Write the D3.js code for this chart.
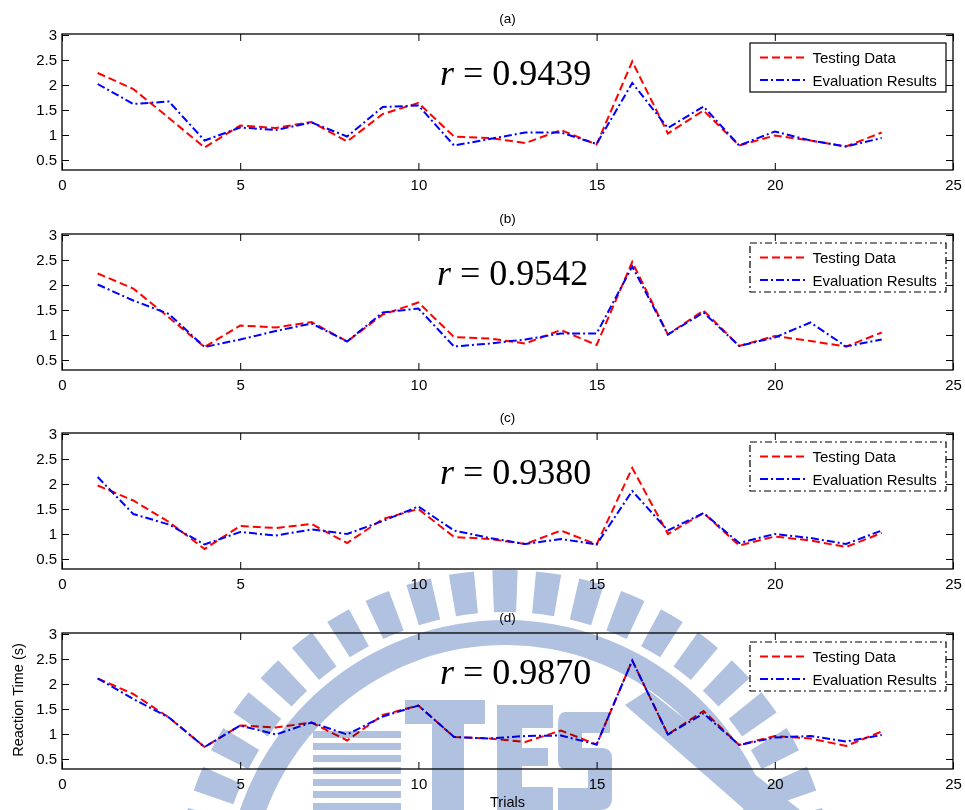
<!DOCTYPE html>
<html>
<head>
<meta charset="utf-8">
<script src="https://cdn.jsdelivr.net/npm/d3@7"></script>
<style>
  html, body { margin: 0; padding: 0; background: #fff; }
  svg { display: block; }
  text { font-family: "Liberation Sans", Arial, sans-serif; fill: #000; }
  .rlabel { font-family: "Liberation Serif", "Times New Roman", serif; }
</style>
</head>
<body>
<svg id="chart" width="965" height="810"></svg>
<script>
// Trial numbers along the x axis
const trials = [1, 2, 3, 4, 5, 6, 7, 8, 9, 10, 11, 12, 13, 14, 15, 16, 17, 18, 19, 20, 21, 22, 23];

// Measured reaction times (s) used in each panel
const testingA = [2.24, 1.92, 1.34, 0.75, 1.19, 1.14, 1.26, 0.87, 1.42, 1.64, 0.97, 0.94, 0.84, 1.10, 0.81, 2.47, 1.03, 1.49, 0.79, 0.99, 0.89, 0.77, 1.05];
const testingB = [2.23, 1.93, 1.35, 0.76, 1.19, 1.15, 1.26, 0.87, 1.41, 1.65, 0.96, 0.93, 0.83, 1.10, 0.80, 2.46, 1.01, 1.49, 0.78, 0.98, 0.88, 0.77, 1.05];
const testingC = [1.97, 1.67, 1.24, 0.70, 1.16, 1.12, 1.20, 0.82, 1.30, 1.50, 0.94, 0.90, 0.80, 1.07, 0.79, 2.32, 1.00, 1.42, 0.77, 0.95, 0.87, 0.74, 1.02];
const testingD = [2.11, 1.80, 1.33, 0.74, 1.17, 1.13, 1.23, 0.87, 1.38, 1.57, 0.94, 0.91, 0.84, 1.07, 0.79, 2.47, 0.99, 1.46, 0.78, 0.96, 0.91, 0.76, 1.05];

// Model outputs (s) for each panel
const evalA = [2.02, 1.62, 1.67, 0.89, 1.15, 1.10, 1.25, 0.97, 1.56, 1.59, 0.79, 0.92, 1.05, 1.05, 0.82, 2.04, 1.14, 1.57, 0.79, 1.07, 0.89, 0.77, 0.94];
const evalB = [2.01, 1.69, 1.42, 0.76, 0.91, 1.08, 1.23, 0.87, 1.45, 1.53, 0.77, 0.83, 0.91, 1.03, 1.03, 2.37, 1.01, 1.45, 0.78, 0.95, 1.25, 0.77, 0.91];
const evalC = [2.14, 1.40, 1.19, 0.79, 1.04, 0.97, 1.09, 1.00, 1.26, 1.55, 1.07, 0.92, 0.80, 0.90, 0.79, 1.86, 1.07, 1.42, 0.82, 1.00, 0.92, 0.80, 1.07];
const evalD = [2.11, 1.70, 1.33, 0.74, 1.17, 0.99, 1.23, 0.99, 1.35, 1.57, 0.94, 0.91, 0.96, 0.97, 0.79, 2.47, 0.99, 1.41, 0.78, 0.93, 0.96, 0.85, 0.98];

// Panel titles and correlation coefficients
const panelTitles = ["(a)", "(b)", "(c)", "(d)"];
const correlations = ["0.9439", "0.9542", "0.9380", "0.9870"];

// Axis ticks
const xTicks = [0, 5, 10, 15, 20, 25];
const yTicks = [0.5, 1, 1.5, 2, 2.5, 3];
const xDomain = [0, 25];
const yDomain = [0.3, 3.02];

const seriesNames = ["Testing Data", "Evaluation Results"];
const testingSets = [testingA, testingB, testingC, testingD];
const evalSets = [evalA, evalB, evalC, evalD];

// ---- layout ----
const svg = d3.select("#chart");
const left = 62, right = 953;
const panelTops = [34, 234, 433, 633];
const panelH = 136;
const red = "#ff0000", blue = "#0000ff";
const redDash = "8,4";
const blueDash = "8,3,2,3";

svg.append("rect").attr("width", 965).attr("height", 810).attr("fill", "#fff");

const x = d3.scaleLinear().domain(xDomain).range([left, right]);

panelTitles.forEach((title, i) => {
  const top = panelTops[i];
  const bottom = top + panelH;
  const y = d3.scaleLinear().domain(yDomain).range([bottom, top]);
  const g = svg.append("g");

  // axes: ticks pointing inward on all four sides
  const axB = g.append("g").attr("transform", `translate(0,${bottom})`)
    .call(d3.axisBottom(x).tickValues(xTicks).tickSizeInner(-7).tickSizeOuter(0).tickPadding(9).tickFormat(d3.format("d")));
  const axT = g.append("g").attr("transform", `translate(0,${top})`)
    .call(d3.axisTop(x).tickValues(xTicks).tickSizeInner(-7).tickSizeOuter(0).tickFormat(""));
  const axL = g.append("g").attr("transform", `translate(${left},0)`)
    .call(d3.axisLeft(y).tickValues(yTicks).tickSizeInner(-7).tickSizeOuter(0).tickPadding(5).tickFormat(d => d3.format("")(d)));
  const axR = g.append("g").attr("transform", `translate(${right},0)`)
    .call(d3.axisRight(y).tickValues(yTicks).tickSizeInner(-7).tickSizeOuter(0).tickFormat(""));
  [axB, axT, axL, axR].forEach(a => {
    a.select(".domain").remove();
    a.selectAll(".tick line").attr("stroke", "#000").attr("stroke-width", 1);
    a.selectAll("text").attr("font-size", 15).attr("fill", "#000")
      .attr("font-family", "Liberation Sans, Arial, sans-serif");
  });

  // axes box
  g.append("rect").attr("x", left).attr("y", top).attr("width", right - left).attr("height", panelH)
    .attr("fill", "none").attr("stroke", "#000").attr("stroke-width", 1.3);

  // title
  g.append("text").attr("x", (left + right) / 2).attr("y", top - 11)
    .attr("text-anchor", "middle").attr("font-size", 13.5).text(title);

  // series
  const line = d3.line().x((d, k) => x(trials[k])).y(d => y(d));
  g.append("path").datum(testingSets[i]).attr("d", line)
    .attr("fill", "none").attr("stroke", red).attr("stroke-width", 2).attr("stroke-dasharray", redDash);
  g.append("path").datum(evalSets[i]).attr("d", line)
    .attr("fill", "none").attr("stroke", blue).attr("stroke-width", 2).attr("stroke-dasharray", blueDash);

  // correlation label
  const rt = g.append("text").attr("class", "rlabel").attr("x", i === 1 ? 437 : 440).attr("y", top + 51)
    .attr("font-size", 36);
  rt.append("tspan").attr("font-style", "italic").text("r");
  rt.append("tspan").text(" = " + correlations[i]);

  // legend
  const lx = 750, ly = top + 9, lw = 196, lh = 49;
  g.append("rect").attr("x", lx).attr("y", ly).attr("width", lw).attr("height", lh)
    .attr("fill", "#fff").attr("stroke", "#000").attr("stroke-width", 1.2)
    .attr("stroke-dasharray", i === 0 ? null : "7,3,2,3");
  const rows = [{ c: red, d: redDash, t: seriesNames[0], yy: top + 23.5 },
                { c: blue, d: blueDash, t: seriesNames[1], yy: top + 46 }];
  rows.forEach(r => {
    g.append("line").attr("x1", 760).attr("x2", 805).attr("y1", r.yy).attr("y2", r.yy)
      .attr("stroke", r.c).attr("stroke-width", 2).attr("stroke-dasharray", r.d);
    g.append("text").attr("x", 812.5).attr("y", r.yy + 5.5).attr("font-size", 15).text(r.t);
  });
});

// axis titles
svg.append("text").attr("x", (left + right) / 2).attr("y", 807).attr("text-anchor", "middle")
  .attr("font-size", 14.5).text("Trials");
svg.append("text").attr("transform", "translate(23,700) rotate(-90)").attr("text-anchor", "middle")
  .attr("font-size", 14.5).text("Reaction Time (s)");

// light-blue emblem printed over the lower part of the page
const emb = svg.append("g").style("mix-blend-mode", "multiply").attr("fill", "#b1c1e0");
const cx = 505, cy = 900;
const arc = d3.arc();
for (let a = -76; a <= 76; a += 7.6) {
  emb.append("path").attr("transform", `translate(${cx},${cy})`)
    .attr("d", arc({ innerRadius: 288, outerRadius: 330, startAngle: (a - 2.2) * Math.PI / 180, endAngle: (a + 2.2) * Math.PI / 180 }));
}
emb.append("path").attr("transform", `translate(${cx},${cy})`)
  .attr("d", arc({ innerRadius: 255, outerRadius: 280, startAngle: -80 * Math.PI / 180, endAngle: 80 * Math.PI / 180 }));
// striped block
for (let s = 0; s < 7; s++) {
  emb.append("rect").attr("x", 313).attr("y", 731 + s * 12).attr("width", 88).attr("height", 7);
}
// T
emb.append("rect").attr("x", 405).attr("y", 700).attr("width", 80).attr("height", 24);
emb.append("rect").attr("x", 432).attr("y", 700).attr("width", 32).attr("height", 110);
// E
emb.append("path").attr("d", "M497,705 H553 V728 H522 V748 H548 V766 H522 V787 H553 V810 H497 Z");
// S
emb.append("path").attr("d", "M610,712 H565 Q558,712 558,724 V760 Q558,770 568,770 H588 V788 H558 V810 H600 Q612,810 612,798 V758 Q612,748 602,748 H582 V733 H610 Z");
// wedge
emb.append("path").attr("d", "M625,705 L648,690 L800,810 L745,810 Z");
</script>
</body>
</html>
